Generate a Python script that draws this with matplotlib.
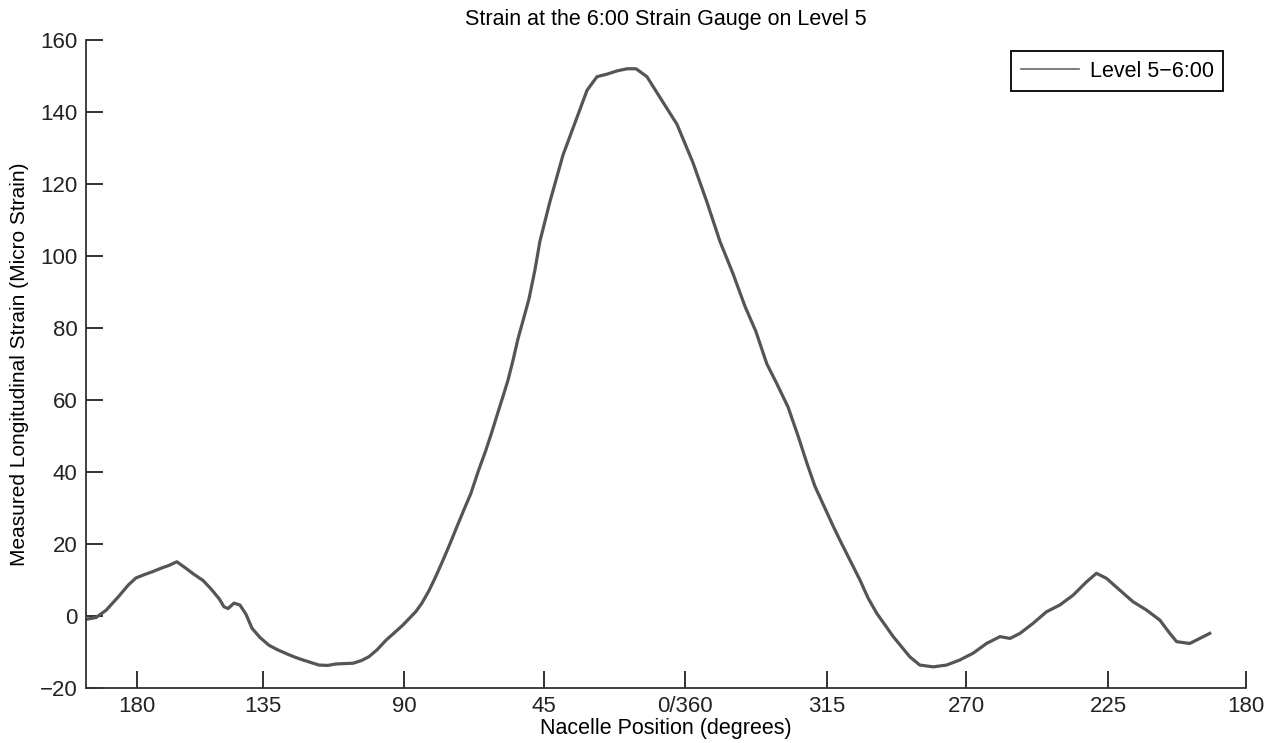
import matplotlib.pyplot as plt
from matplotlib.lines import Line2D

plt.rcParams['font.family'] = ['Liberation Sans', 'DejaVu Sans']

# nacelle travel (degrees from start of record) and strain
travel = [0, 3.2, 6.4, 10.6, 13.5, 16.0, 18.9, 21.5, 24.0, 26.6, 29.1, 32.0, 34.6,
          37.5, 40.0, 42.6, 44.2, 45.5, 47.4, 49.3, 51.2, 53.2, 55.7, 58.6, 61.5,
          64.1, 66.9, 69.5, 72.1, 74.6, 77.5, 80.1, 82.6, 85.5, 88.1, 90.6, 93.2,
          96.1, 98.7, 101.5, 103.5, 105.7, 107.6, 109.9, 112.1, 114.4, 116.6,
          118.8, 121.1, 123.3, 125.6, 128.1, 130.0, 131.6, 133.6, 135.2, 136.8,
          138.4, 140.0, 141.9, 143.8, 145.4, 148.6, 152.8, 157.3, 160.5, 163.7,
          166.9, 170.1, 173.3, 176.2, 179.7, 183.9, 189.3, 194.4, 198.9, 203.1,
          207.3, 211.1, 214.6, 218.1, 221.3, 224.9, 228.1, 230.9, 233.5, 236.4,
          239.3, 242.1, 245.0, 247.9, 250.5, 253.3, 258.6, 263.9, 267.1, 271.4,
          275.7, 279.9, 284.2, 288.5, 292.8, 296.0, 299.2, 303.4, 307.7, 312.0,
          316.2, 320.5, 323.7, 326.9, 331.2, 335.4, 339.7, 344.0, 347.2, 349.4,
          353.6, 356.8, 360.0]
strain = [-1, -0.5, 1.5, 5.5, 8.5, 10.5, 11.5, 12.3, 13.2, 14, 15, 13.2, 11.5,
          9.8, 7.5, 4.8, 2.5, 2.0, 3.5, 3.0, 0.5, -3.5, -6, -8.2, -9.5,
          -10.5, -11.5, -12.3, -13, -13.7, -13.8, -13.4, -13.3, -13.2, -12.5, -11.4, -9.5,
          -6.8, -4.8, -2.6, -0.8, 1.2, 3.5, 7, 11, 15.5, 20,
          24.7, 29.5, 34, 40, 46, 51, 55.5, 61, 65.5, 71,
          77, 82, 88, 96, 104, 115, 128, 138.5, 146, 149.8,
          150.5, 151.4, 152, 152, 149.8, 144, 136.6, 126, 115, 104,
          95, 86, 79, 70, 64.5, 58, 50, 42.5, 36, 30.5,
          25, 20, 15, 10, 5, 0.7, -5.8, -11.4, -13.7, -14.2,
          -13.7, -12.3, -10.4, -7.7, -5.8, -6.3, -4.9, -2.1, 1.1, 3.0,
          5.7, 9.4, 11.8, 10.4, 7.1, 3.9, 1.6, -1.2, -4.9, -7.2,
          -7.7, -6.3, -4.9]

tick_pos = [16.2, 56.8, 101.9, 146.8, 191.9, 237.3, 281.9, 327.4, 371.6]
tick_labels = ['180', '135', '90', '45', '0/360', '315', '270', '225', '180']

fig = plt.figure(figsize=(12.74, 7.43), dpi=100)
ax = fig.add_axes([0.0675, 0.0744, 0.9105, 0.8718])

ax.plot(travel, strain, color='#555555', lw=2.3, solid_joinstyle='round')

ax.set_xlim(0, 371.6)
ax.set_ylim(-20, 160)
ax.set_xticks(tick_pos)
ax.set_xticklabels(tick_labels)
ax.set_yticks(range(-20, 161, 20))
ax.tick_params(direction='in', length=12, width=1.3, labelsize=16, pad=6, colors='#222222')
for s in ['top', 'right']:
    ax.spines[s].set_visible(False)
for s in ['left', 'bottom']:
    ax.spines[s].set_linewidth(1.3)
    ax.spines[s].set_color('#333333')

ax.set_title('Strain at the 6:00 Strain Gauge on Level 5', fontsize=15.5, pad=11)
ax.set_xlabel('Nacelle Position (degrees)', fontsize=15.5, labelpad=1)
ax.set_ylabel('Measured Longitudinal Strain (Micro Strain)', fontsize=15, labelpad=8)

handle = Line2D([], [], color='#666666', lw=1.2)
leg = ax.legend([handle], ['Level 5\u22126:00'], loc='upper right',
                bbox_to_anchor=(0.986, 0.993), fontsize=15.5, fancybox=False,
                framealpha=1, edgecolor='black', handlelength=2.7,
                handletextpad=0.5, borderpad=0.45, borderaxespad=0.3)
leg.get_frame().set_linewidth(1.3)

fig.savefig('out.png', dpi=100)
